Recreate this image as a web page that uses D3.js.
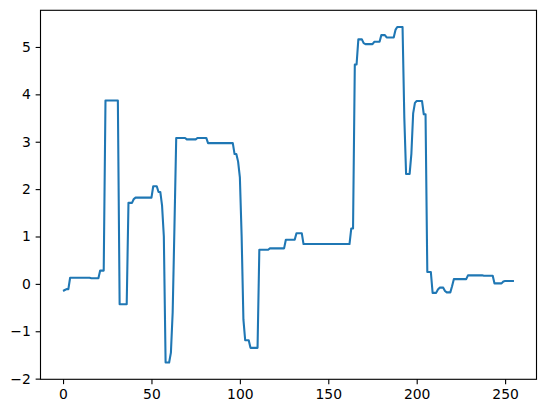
<!DOCTYPE html>
<html>
<head>
<meta charset="utf-8">
<script src="https://cdn.jsdelivr.net/npm/d3@7"></script>
<style>
  html, body { margin: 0; padding: 0; background: #fff; }
  svg { display: block; }
  .tick text { font-family: "DejaVu Sans", sans-serif; font-size: 13.9px; fill: #000; }
</style>
</head>
<body>
<div id="chart"></div>
<script>
const values = [
  -0.15,-0.13,-0.11,-0.11,0.13,0.13,0.13,0.13,0.13,0.13,0.13,0.13,0.13,0.13,0.13,0.13,
  0.12,0.12,0.12,0.12,0.12,0.28,0.28,0.28,3.87,3.87,3.87,3.87,3.87,3.87,3.87,3.87,
  -0.43,-0.43,-0.43,-0.43,-0.43,1.71,1.71,1.71,1.79,1.82,1.82,1.82,1.82,1.82,1.82,1.82,
  1.82,1.82,1.82,2.06,2.06,2.06,1.94,1.94,1.65,1.0,-1.66,-1.66,-1.66,-1.45,-0.6,1.2,
  3.08,3.08,3.08,3.08,3.08,3.08,3.05,3.05,3.05,3.05,3.05,3.05,3.08,3.08,3.08,3.08,
  3.08,3.08,2.97,2.97,2.97,2.97,2.97,2.97,2.97,2.97,2.97,2.97,2.97,2.97,2.97,2.97,
  2.97,2.74,2.74,2.58,2.25,1.0,-0.75,-1.19,-1.19,-1.19,-1.35,-1.35,-1.35,-1.35,-1.35,0.72,
  0.72,0.72,0.72,0.72,0.72,0.75,0.75,0.75,0.75,0.75,0.75,0.75,0.75,0.75,0.93,0.93,
  0.93,0.93,0.93,0.93,1.07,1.07,1.07,1.07,0.84,0.84,0.84,0.84,0.84,0.84,0.84,0.84,
  0.84,0.84,0.84,0.84,0.84,0.84,0.84,0.84,0.84,0.84,0.84,0.84,0.84,0.84,0.84,0.84,
  0.84,0.84,0.84,1.17,1.17,4.63,4.63,5.16,5.16,5.16,5.08,5.06,5.06,5.06,5.06,5.06,
  5.11,5.11,5.11,5.11,5.25,5.25,5.25,5.20,5.20,5.20,5.20,5.20,5.36,5.42,5.42,5.42,
  5.42,3.5,2.32,2.32,2.32,2.75,3.6,3.82,3.86,3.86,3.86,3.86,3.58,3.58,0.25,0.25,
  0.25,-0.19,-0.19,-0.19,-0.12,-0.08,-0.08,-0.08,-0.15,-0.18,-0.18,-0.18,-0.05,0.10,0.10,0.10,
  0.10,0.10,0.10,0.10,0.10,0.18,0.18,0.18,0.18,0.18,0.18,0.18,0.18,0.18,0.17,0.17,
  0.17,0.17,0.17,0.17,0.01,0.01,0.01,0.01,0.01,0.05,0.06,0.06,0.06,0.06,0.06,0.06
];
const xTicks = [0, 50, 100, 150, 200, 250];
const yTicks = [-2, -1, 0, 1, 2, 3, 4, 5];

const W = 546, H = 413;
const plot = { left: 40.5, right: 536.5, top: 10.3, bottom: 379.3 };
const pt = 100 / 72;

const svg = d3.select("#chart").append("svg").attr("width", W).attr("height", H);
svg.append("rect").attr("width", W).attr("height", H).attr("fill", "#fff");

const n = values.length;
const xMin = 0, xMax = n - 1;
const xPad = (xMax - xMin) * 0.05;
const [yMin, yMax] = d3.extent(values);
const yPad = (yMax - yMin) * 0.05;

const x = d3.scaleLinear().domain([xMin - xPad, xMax + xPad]).range([plot.left, plot.right]);
const y = d3.scaleLinear().domain([yMin - yPad, yMax + yPad]).range([plot.bottom, plot.top]);

const line = d3.line().x((d, i) => x(i)).y(d => y(d));
svg.append("path").datum(values)
  .attr("d", line)
  .attr("fill", "none")
  .attr("stroke", "#1f77b4")
  .attr("stroke-width", 1.5 * pt)
  .attr("stroke-linejoin", "round")
  .attr("stroke-linecap", "butt");

const xAxis = d3.axisBottom(x).tickValues(xTicks).tickFormat(d3.format("d"))
  .tickSizeInner(3.5 * pt).tickSizeOuter(0).tickPadding(3.5 * pt);
const yAxis = d3.axisLeft(y).tickValues(yTicks).tickFormat(d3.format("d"))
  .tickSizeInner(3.5 * pt).tickSizeOuter(0).tickPadding(3.5 * pt);

const gx = svg.append("g").attr("transform", `translate(0,${plot.bottom})`).call(xAxis);
const gy = svg.append("g").attr("transform", `translate(${plot.left},0)`).call(yAxis);
[gx, gy].forEach(g => {
  g.select(".domain").remove();
  g.selectAll(".tick line").attr("stroke", "#000").attr("stroke-width", 0.8 * pt);
  g.attr("font-family", null).attr("font-size", null);
});

svg.append("rect")
  .attr("x", plot.left).attr("y", plot.top)
  .attr("width", plot.right - plot.left).attr("height", plot.bottom - plot.top)
  .attr("fill", "none").attr("stroke", "#000").attr("stroke-width", 0.8 * pt);
</script>
</body>
</html>
